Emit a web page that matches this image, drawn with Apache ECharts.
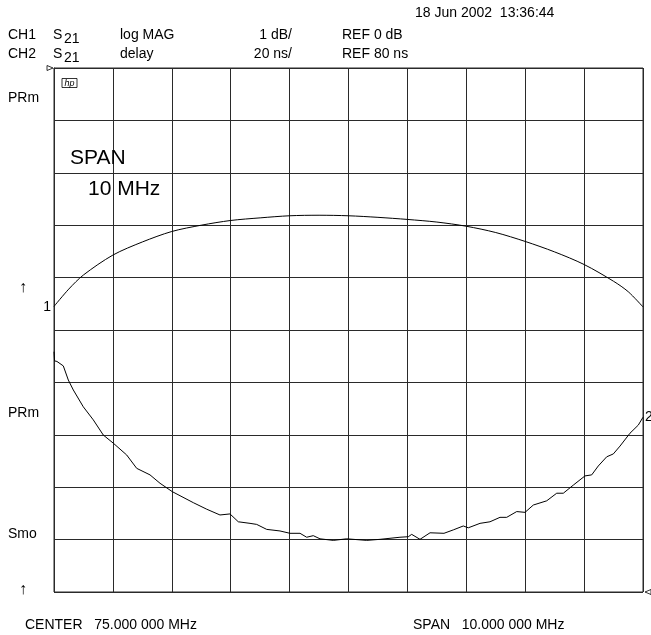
<!DOCTYPE html>
<html>
<head>
<meta charset="utf-8">
<script src="https://cdn.jsdelivr.net/npm/echarts@6/dist/echarts.min.js"></script>
<style>
html,body{margin:0;padding:0;background:#fff;}
#c{width:651px;height:635px;}
</style>
</head>
<body>
<div id="c"></div>
<script>
// CH1: S21 log MAG, 1 dB/div, REF 0 dB (reference at top line)
var magFreq = [70.0, 70.25, 70.5, 71.0, 71.5, 72.0, 72.5, 73.0, 73.5, 74.0, 74.5, 75.0, 75.5, 76.0, 76.5, 77.0, 77.5, 78.0, 78.5, 79.0, 79.5, 79.75, 80.0];
var magDb = [-4.55, -4.22, -3.95, -3.57, -3.32, -3.12, -3.00, -2.91, -2.86, -2.82, -2.81, -2.82, -2.85, -2.89, -2.94, -3.02, -3.14, -3.31, -3.51, -3.75, -4.07, -4.27, -4.56];

// CH2: S21 delay, 20 ns/div, REF 80 ns (reference at bottom line)
var delayFreq = [70.0, 70.01, 70.05, 70.158, 70.243, 70.328, 70.497, 70.667, 70.837, 71.007, 71.234, 71.404, 71.63, 71.8, 72.008, 72.365, 72.593, 72.818, 72.988, 73.129, 73.328, 73.441, 73.611, 73.837, 74.007, 74.177, 74.29, 74.402, 74.516, 74.742, 74.969, 75.309, 75.535, 75.874, 76.015, 76.073, 76.214, 76.384, 76.621, 76.779, 76.949, 77.034, 77.233, 77.402, 77.572, 77.686, 77.856, 77.997, 78.138, 78.365, 78.535, 78.647, 78.817, 79.015, 79.129, 79.241, 79.384, 79.496, 79.61, 79.779, 79.92, 80.0];
var delayNs = [171.7, 168.2, 168.0, 166.3, 160.9, 157.1, 150.7, 145.7, 139.9, 136.8, 132.3, 127.2, 124.7, 121.5, 118.3, 114.1, 111.6, 109.4, 109.8, 106.8, 106.2, 105.8, 103.9, 103.3, 102.4, 102.4, 100.9, 101.5, 100.3, 99.7, 100.3, 99.7, 100.1, 100.9, 101.1, 102.0, 100.1, 102.6, 102.4, 103.7, 105.2, 104.5, 106.2, 106.8, 108.5, 108.5, 110.7, 110.4, 113.2, 114.8, 117.7, 117.7, 120.8, 124.3, 124.7, 128.1, 131.6, 132.7, 135.7, 140.6, 143.7, 146.7];

var FONT = '"Liberation Sans", Arial, sans-serif';
function zip(a, b) { return a.map(function (v, i) { return [v, b[i]]; }); }
function txt(s, x, y, size, align, extra) {
  var st = { text: s, x: x, y: y, font: (size || 14) + 'px ' + FONT, fill: '#000', textAlign: align || 'left', textVerticalAlign: 'middle' };
  if (extra) for (var k in extra) st[k] = extra[k];
  return { type: 'text', z: 100, style: st };
}

var chart = echarts.init(document.getElementById('c'), null, { renderer: 'canvas' });
var gridLine = { show: true, lineStyle: { color: '#2a2a2a', width: 1 } };
chart.setOption({
  animation: false,
  backgroundColor: '#fff',
  grid: { left: 54, right: 8, top: 68, bottom: 43, show: true, borderColor: '#2a2a2a', borderWidth: 1, containLabel: false },
  xAxis: {
    type: 'value', min: 70, max: 80, interval: 1,
    axisLine: { show: true, lineStyle: { color: '#2a2a2a' } }, axisTick: { show: false }, axisLabel: { show: false },
    splitLine: gridLine
  },
  yAxis: [
    { type: 'value', min: -10, max: 0, interval: 1,
      axisLine: { show: true, lineStyle: { color: '#2a2a2a' } }, axisTick: { show: false }, axisLabel: { show: false },
      splitLine: gridLine },
    { type: 'value', min: 80, max: 280, interval: 20, position: 'right',
      axisLine: { show: false }, axisTick: { show: false }, axisLabel: { show: false }, splitLine: { show: false } }
  ],
  series: [
    { name: 'CH1', type: 'line', yAxisIndex: 0, data: zip(magFreq, magDb), smooth: 0.3, showSymbol: false,
      lineStyle: { color: '#000', width: 1 }, z: 10 },
    { name: 'CH2', type: 'line', yAxisIndex: 1, data: zip(delayFreq, delayNs), showSymbol: false,
      lineStyle: { color: '#000', width: 1 }, z: 10 }
  ],
  graphic: [
    txt('18 Jun 2002  13:36:44', 415, 13),
    txt('CH1', 8, 35), txt('S', 53, 35), txt('21', 64, 39),
    txt('log MAG', 120, 35), txt('1 dB/', 292, 35, 14, 'right'), txt('REF 0 dB', 342, 35),
    txt('CH2', 8, 54), txt('S', 53, 54), txt('21', 64, 58),
    txt('delay', 120, 54), txt('20 ns/', 292, 54, 14, 'right'), txt('REF 80 ns', 342, 54),
    txt('PRm', 8, 98), txt('PRm', 8, 413), txt('Smo', 8, 534),
    txt('\u2191', 23, 288, 16, 'center'), txt('\u2191', 23, 590, 16, 'center'),
    txt('1', 51, 307, 14, 'right'), txt('2', 645, 417),
    txt('SPAN', 70, 158, 21), txt('10 MHz', 88, 189, 21),
    txt('CENTER   75.000 000 MHz', 25, 625), txt('SPAN   10.000 000 MHz', 413, 625),
    { type: 'rect', z: 100, shape: { x: 62, y: 78.5, width: 15, height: 9 }, style: { fill: 'none', stroke: '#000', lineWidth: 0.8 } },
    txt('hp', 69.5, 83, 9, 'center', { font: 'italic 9px ' + FONT }),
    { type: 'polygon', z: 100, shape: { points: [[47, 65.5], [47, 70.5], [53, 68]] }, style: { fill: 'none', stroke: '#000', lineWidth: 0.8 } },
    { type: 'polygon', z: 100, shape: { points: [[651, 589.5], [651, 594.5], [645, 592]] }, style: { fill: 'none', stroke: '#000', lineWidth: 0.8 } }
  ]
});
</script>
</body>
</html>
